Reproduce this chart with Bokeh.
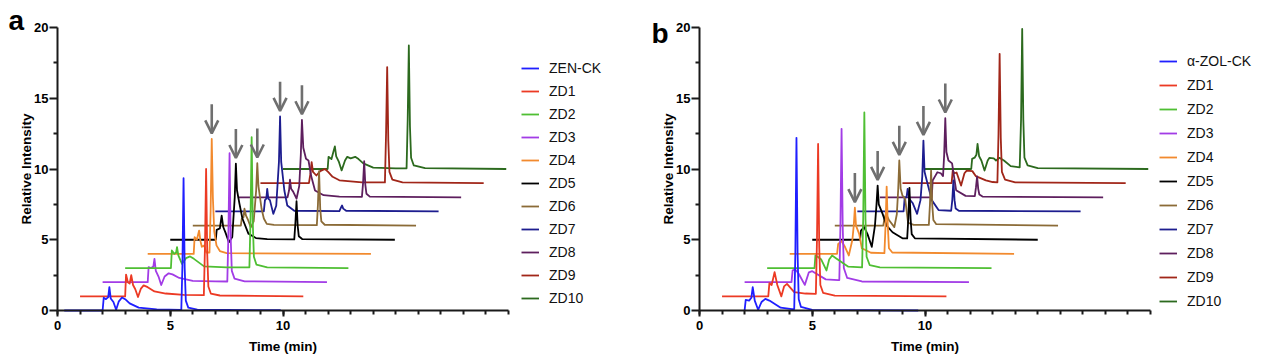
from bokeh.plotting import figure
from bokeh.models import (Legend, LegendItem, Arrow, OpenHead, Label, FixedTicker,
                          ColumnDataSource, Range1d)
from bokeh.layouts import row
from bokeh.embed import file_html
from bokeh.resources import INLINE

FONT = "Liberation Sans"

# ---------------- data ----------------
SAMPLES_A = ["ZEN-CK", "ZD1", "ZD2", "ZD3", "ZD4", "ZD5", "ZD6", "ZD7", "ZD8", "ZD9", "ZD10"]
SAMPLES_B = ["α-ZOL-CK", "ZD1", "ZD2", "ZD3", "ZD4", "ZD5", "ZD6", "ZD7", "ZD8", "ZD9", "ZD10"]
# waterfall offset of each sample (minutes along x, intensity units along y)
STACK_OFFSET = [0, 1, 3, 2, 4, 5, 6, 7, 8, 9, 10]
COLORS = ["#1f1fff", "#ec3a24", "#4fbf33", "#a23ce6", "#f28a2e", "#000000",
          "#8b6b37", "#1d1d8f", "#5e1f5e", "#a12619", "#2c6a1e"]
ARROWED = ["ZD4", "ZD5", "ZD6", "ZD7", "ZD8"]
X_TICKS = [0, 5, 10]
Y_TICKS = [0, 5, 10, 15, 20]

# Panel a: retention time (min) and relative intensity of each chromatogram
A_ZENCK_T = [0.3, 2.0, 2.05, 2.15, 2.25, 2.3, 2.36, 2.48, 2.6, 2.72, 2.86, 3.0, 3.2, 3.6, 4.4, 5.49, 5.54, 5.59, 5.64, 5.69, 5.8, 6.2, 9.9]
A_ZENCK_I = [0.0, 0.0, 0.9, 0.8, 0.95, 1.65, 0.85, 0.6, 0.05, 0.65, 0.92, 0.8, 0.5, 0.2, 0.08, 0.05, 3.2, 9.35, 3.0, 0.7, 0.2, 0.06, 0.02]
A_ZD1_T = [0.0, 2.0, 2.04, 2.12, 2.2, 2.27, 2.35, 2.45, 2.57, 2.7, 2.82, 3.0, 3.3, 3.8, 4.6, 5.49, 5.54, 5.59, 5.64, 5.69, 5.8, 6.2, 9.9]
A_ZD1_I = [0.0, 0.0, 1.54, 1.0, 0.9, 1.5, 0.8, 0.5, -0.05, 0.55, 0.77, 0.65, 0.35, 0.2, 0.1, 0.08, 3.5, 9.0, 3.0, 0.7, 0.2, 0.06, 0.0]
A_ZD2_T = [0.0, 2.03, 2.07, 2.18, 2.26, 2.3, 2.36, 2.52, 2.7, 2.88, 3.05, 3.5, 4.5, 5.51, 5.56, 5.61, 5.66, 5.71, 5.82, 6.3, 9.9]
A_ZD2_I = [0.0, 0.0, 1.24, 1.0, 1.1, 1.47, 0.9, 0.3, 0.7, 0.82, 0.65, 0.12, 0.05, 0.05, 3.5, 9.25, 3.2, 0.8, 0.25, 0.05, 0.0]
A_ZD3_T = [0.0, 2.0, 2.04, 2.15, 2.25, 2.3, 2.36, 2.48, 2.6, 2.75, 2.93, 3.1, 3.4, 4.0, 5.0, 5.53, 5.58, 5.63, 5.68, 5.73, 5.85, 6.3, 9.95]
A_ZD3_I = [0.0, 0.0, 1.06, 1.0, 1.1, 1.65, 0.8, 0.4, -0.2, 0.4, 0.63, 0.55, 0.3, 0.1, 0.06, 0.05, 3.5, 9.12, 3.2, 0.8, 0.25, 0.06, 0.0]
A_ZD4_T = [0.0, 2.04, 2.08, 2.18, 2.28, 2.34, 2.4, 2.5, 2.6, 2.74, 2.79, 2.84, 2.89, 2.95, 3.05, 3.2, 3.5, 9.9]
A_ZD4_I = [0.0, 0.0, 1.18, 1.0, 1.65, 0.9, 0.5, 0.6, 0.1, 0.1, 3.0, 8.12, 4.0, 1.6, 0.6, 0.2, 0.05, 0.0]
A_ZD5_T = [0.0, 2.02, 2.06, 2.2, 2.28, 2.35, 2.45, 2.6, 2.75, 2.86, 2.91, 2.96, 3.07, 3.2, 3.47, 3.8, 4.3, 5.5, 5.55, 5.6, 5.65, 5.7, 5.85, 9.96]
A_ZD5_I = [0.0, 0.0, 0.7, 0.8, 1.71, 0.9, 0.5, -0.17, 0.2, 3.0, 5.38, 3.5, 2.54, 1.5, 0.42, 0.12, 0.05, 0.03, 1.2, 2.72, 1.0, 0.25, 0.05, 0.0]
A_ZD6_T = [0.0, 2.13, 2.17, 2.25, 2.29, 2.36, 2.45, 2.57, 2.7, 2.81, 2.86, 2.91, 3.05, 3.15, 3.28, 3.6, 5.5, 5.55, 5.6, 5.65, 5.7, 5.85, 9.9]
A_ZD6_I = [0.0, 0.0, 0.47, 0.6, 1.19, 0.7, 0.4, -0.12, 0.3, 2.5, 4.41, 2.8, 1.19, 0.5, 0.12, 0.05, 0.03, 1.5, 3.85, 1.2, 0.3, 0.06, 0.0]
A_ZD7_T = [0.0, 2.15, 2.2, 2.26, 2.3, 2.35, 2.42, 2.57, 2.7, 2.82, 2.87, 2.92, 3.06, 3.19, 3.5, 5.5, 5.58, 5.62, 5.67, 5.8, 9.9]
A_ZD7_I = [0.0, 0.0, 0.8, 0.9, 1.6, 0.9, 0.8, -0.17, 0.4, 3.5, 6.71, 3.5, 1.48, 0.42, 0.05, 0.03, 0.3, 0.42, 0.2, 0.05, 0.0]
A_ZD8_T = [0.0, 2.2, 2.27, 2.31, 2.36, 2.45, 2.6, 2.72, 2.79, 2.84, 2.9, 3.02, 3.13, 3.25, 3.42, 3.8, 4.5, 5.5, 5.55, 5.6, 5.65, 5.7, 5.85, 9.9]
A_ZD8_I = [0.0, 0.0, 0.5, 1.24, 0.6, 0.4, -0.1, 0.8, 3.0, 5.47, 3.5, 2.72, 2.6, 1.5, 0.48, 0.15, 0.05, 0.03, 1.0, 2.55, 0.9, 0.25, 0.05, 0.0]
A_ZD9_T = [0.0, 2.15, 2.22, 2.27, 2.33, 2.48, 2.65, 2.86, 3.0, 3.2, 3.5, 4.5, 5.52, 5.57, 5.62, 5.67, 5.72, 5.85, 6.3, 9.9]
A_ZD9_I = [0.0, 0.0, 0.7, 1.49, 0.8, 0.54, 0.85, 1.0, 0.8, 0.45, 0.2, 0.05, 0.05, 3.5, 8.2, 3.0, 0.8, 0.25, 0.06, 0.0]
A_ZD10_T = [0.0, 1.98, 2.02, 2.15, 2.25, 2.3, 2.36, 2.48, 2.6, 2.75, 2.85, 3.0, 3.2, 3.35, 3.56, 4.0, 5.0, 5.48, 5.53, 5.58, 5.63, 5.68, 5.8, 6.3, 9.9]
A_ZD10_I = [0.0, 0.0, 0.86, 0.7, 1.3, 1.6, 0.9, 0.5, -0.1, 0.6, 0.86, 0.75, 0.86, 0.7, 0.4, 0.1, 0.05, 0.05, 3.5, 8.73, 3.0, 0.8, 0.25, 0.06, 0.0]

# Panel b
B_AZOLCK_T = [2.0, 2.05, 2.2, 2.3, 2.36, 2.45, 2.6, 2.75, 2.92, 3.1, 3.6, 4.1, 4.2, 4.25, 4.3, 4.35, 4.4, 4.5, 5.0, 9.7]
B_AZOLCK_I = [0.0, 0.75, 0.7, 0.9, 1.65, 0.7, 0.05, 0.6, 0.82, 0.7, 0.2, 0.1, 0.1, 4.0, 12.2, 4.0, 0.8, 0.25, 0.05, 0.0]
B_ZD1_T = [0.0, 2.05, 2.1, 2.2, 2.33, 2.45, 2.63, 2.75, 2.88, 3.2, 3.7, 4.16, 4.21, 4.26, 4.31, 4.36, 4.48, 5.0, 9.95]
B_ZD1_I = [0.0, 0.0, 0.93, 0.8, 1.71, 0.8, 0.0, 0.7, 0.88, 0.3, 0.2, 0.18, 4.0, 10.77, 3.5, 0.8, 0.25, 0.05, 0.0]
B_ZD2_T = [0.0, 2.1, 2.14, 2.24, 2.4, 2.63, 2.75, 2.88, 3.05, 3.6, 4.21, 4.26, 4.31, 4.36, 4.41, 4.55, 5.0, 9.95]
B_ZD2_I = [0.0, 0.0, 0.89, 0.8, 0.6, -0.17, 0.6, 0.89, 0.7, 0.1, 0.05, 3.5, 11.0, 3.5, 0.8, 0.2, 0.05, 0.0]
B_ZD3_T = [0.0, 2.08, 2.13, 2.25, 2.4, 2.67, 2.85, 3.0, 3.6, 4.15, 4.2, 4.25, 4.3, 4.35, 4.4, 4.55, 5.2, 9.95]
B_ZD3_I = [0.0, 0.0, 0.83, 0.9, 0.6, -0.19, 0.7, 0.78, 0.2, 0.15, 0.15, 4.0, 10.84, 4.0, 1.0, 0.3, 0.05, 0.0]
B_ZD4_T = [0.0, 2.1, 2.15, 2.3, 2.45, 2.62, 2.78, 2.84, 2.89, 2.94, 3.08, 3.2, 3.6, 4.2, 4.25, 4.3, 4.35, 4.4, 4.55, 9.95]
B_ZD4_I = [0.0, 0.0, 0.71, 0.9, 0.5, -0.11, 1.0, 2.0, 3.26, 2.0, 1.42, 0.4, 0.08, 0.05, 2.0, 4.76, 2.0, 0.4, 0.1, 0.0]
B_ZD5_T = [0.0, 2.12, 2.16, 2.3, 2.45, 2.64, 2.78, 2.85, 2.9, 2.95, 3.12, 3.3, 3.56, 4.0, 4.21, 4.26, 4.31, 4.36, 4.41, 4.55, 10.0]
B_ZD5_I = [0.0, 0.0, 0.65, 0.89, 0.4, -0.5, 1.0, 2.5, 3.83, 2.5, 1.83, 1.0, 0.53, 0.1, 0.1, 1.5, 3.67, 1.5, 0.4, 0.1, 0.0]
B_ZD6_T = [0.0, 2.15, 2.2, 2.27, 2.4, 2.64, 2.75, 2.81, 2.86, 2.92, 3.0, 3.12, 3.25, 3.5, 4.17, 4.22, 4.27, 4.32, 4.37, 4.5, 9.9]
B_ZD6_I = [0.0, 0.0, 0.5, 0.83, 0.4, -0.11, 0.8, 2.5, 4.6, 2.6, 2.13, 1.9, 0.2, 0.05, 0.05, 1.5, 3.89, 1.5, 0.4, 0.1, 0.0]
B_ZD7_T = [0.0, 2.05, 2.1, 2.18, 2.23, 2.3, 2.45, 2.65, 2.8, 2.88, 2.93, 2.98, 3.04, 3.3, 3.6, 4.16, 4.21, 4.26, 4.31, 4.36, 4.5, 9.9]
B_ZD7_I = [0.0, 0.0, 1.0, 1.0, 1.6, 0.9, 0.6, -0.17, 0.8, 2.5, 5.01, 2.8, 2.42, 0.8, 0.1, 0.05, 0.8, 2.19, 0.8, 0.2, 0.05, 0.0]
B_ZD8_T = [0.0, 2.3, 2.34, 2.45, 2.55, 2.7, 2.8, 2.85, 2.9, 2.95, 3.04, 3.2, 3.38, 3.8, 4.21, 4.26, 4.31, 4.36, 4.41, 4.55, 9.9]
B_ZD8_I = [0.0, 0.0, 1.19, 1.5, 1.77, 1.7, 1.5, 3.0, 5.59, 3.2, 2.6, 2.4, 0.5, 0.1, 0.08, 0.7, 1.47, 0.6, 0.2, 0.05, 0.0]
B_ZD9_T = [0.0, 2.18, 2.23, 2.3, 2.4, 2.6, 2.75, 2.85, 3.1, 3.25, 3.7, 4.0, 4.21, 4.26, 4.31, 4.36, 4.41, 4.55, 5.0, 9.9]
B_ZD9_I = [0.0, 0.0, 0.89, 0.7, 0.75, -0.17, 0.7, 0.89, 0.85, 0.5, 0.2, 0.08, 0.05, 3.5, 9.14, 3.2, 0.8, 0.25, 0.06, 0.0]
B_ZD10_T = [0.0, 2.05, 2.09, 2.2, 2.28, 2.33, 2.4, 2.5, 2.64, 2.78, 2.86, 3.05, 3.15, 3.3, 3.5, 3.8, 4.2, 4.26, 4.31, 4.36, 4.41, 4.55, 5.0, 9.9]
B_ZD10_I = [0.0, 0.0, 0.72, 0.8, 1.0, 1.77, 0.9, 0.6, -0.11, 0.6, 0.79, 0.75, 0.6, 0.79, 0.6, 0.2, 0.12, 3.5, 9.9, 3.5, 0.8, 0.25, 0.06, 0.0]

A_TIMES = [A_ZENCK_T, A_ZD1_T, A_ZD2_T, A_ZD3_T, A_ZD4_T, A_ZD5_T, A_ZD6_T, A_ZD7_T, A_ZD8_T, A_ZD9_T, A_ZD10_T]
A_INTS = [A_ZENCK_I, A_ZD1_I, A_ZD2_I, A_ZD3_I, A_ZD4_I, A_ZD5_I, A_ZD6_I, A_ZD7_I, A_ZD8_I, A_ZD9_I, A_ZD10_I]
B_TIMES = [B_AZOLCK_T, B_ZD1_T, B_ZD2_T, B_ZD3_T, B_ZD4_T, B_ZD5_T, B_ZD6_T, B_ZD7_T, B_ZD8_T, B_ZD9_T, B_ZD10_T]
B_INTS = [B_AZOLCK_I, B_ZD1_I, B_ZD2_I, B_ZD3_I, B_ZD4_I, B_ZD5_I, B_ZD6_I, B_ZD7_I, B_ZD8_I, B_ZD9_I, B_ZD10_I]

PX_PER_MIN = 22.55
PX_PER_UNIT = 14.15
AXIS_BOTTOM, HEIGHT = 310, 357


def make_panel(letter, names, times, ints, width, axis_left,
               legend_xy, legend_spacing, letter_xy):
    # the plotting frame fills the whole figure; axes sit at x = 0 and y = 0
    x0 = -axis_left / PX_PER_MIN
    x1 = (width - axis_left) / PX_PER_MIN
    y0 = -(HEIGHT - AXIS_BOTTOM) / PX_PER_UNIT
    y1 = AXIS_BOTTOM / PX_PER_UNIT
    p = figure(width=width, height=HEIGHT,
               x_range=Range1d(x0, x1), y_range=Range1d(y0, y1),
               min_border_left=0, min_border_right=0,
               min_border_top=0, min_border_bottom=0,
               output_backend="svg", toolbar_location=None)
    p.grid.visible = False
    p.outline_line_color = None
    p.background_fill_color = "white"
    p.border_fill_color = "white"

    renderers = {}
    for i in list(range(len(names)))[::-1]:
        off = STACK_OFFSET[i]
        src = ColumnDataSource(dict(x=[t + off for t in times[i]],
                                    y=[v + off for v in ints[i]]))
        renderers[i] = p.line("x", "y", source=src, line_color=COLORS[i],
                              line_width=1.8, line_join="round")

    # arrows over the product peaks
    for name in ARROWED:
        i = names.index(name)
        off = STACK_OFFSET[i]
        cand = [(v, t) for t, v in zip(times[i], ints[i]) if 2.6 <= t <= 3.2]
        vmax, tmax = max(cand)
        tip = vmax + off + 0.4
        p.add_layout(Arrow(end=OpenHead(size=13, line_color="#6f6f6f", line_width=2.6),
                           x_start=tmax + off, y_start=tip + 2.05,
                           x_end=tmax + off, y_end=tip,
                           line_color="#6f6f6f", line_width=2.6))

    for ax in (p.xaxis[0], p.yaxis[0]):
        ax.fixed_location = 0
        ax.bounds = (0, 20)
        ax.axis_line_width = 2
        ax.major_tick_line_width = 2
        ax.minor_tick_line_width = 2
        ax.axis_line_color = "#1a1a1a"
        ax.major_tick_line_color = "#1a1a1a"
        ax.minor_tick_line_color = "#1a1a1a"
        ax.major_label_text_font = FONT
        ax.major_label_text_font_style = "bold"
        ax.major_label_text_font_size = "13px"
        ax.major_label_text_color = "black"
        ax.axis_label_text_font = FONT
        ax.axis_label_text_font_style = "bold"
        ax.axis_label_text_font_size = "13.5px"
        ax.axis_label_text_color = "black"
        ax.major_tick_in = 0
        ax.minor_tick_in = 0

    xa = p.xaxis[0]
    xa.ticker = FixedTicker(ticks=X_TICKS, minor_ticks=list(range(0, 21)))
    xa.major_tick_out = 6
    xa.minor_tick_out = 4
    xa.major_label_standoff = 4
    xa.axis_label = "Time (min)"
    xa.axis_label_standoff = 6

    ya = p.yaxis[0]
    ya.ticker = FixedTicker(ticks=Y_TICKS, minor_ticks=[2.5, 7.5, 12.5, 17.5])
    ya.major_tick_out = 8
    ya.minor_tick_out = 4
    ya.major_label_standoff = 1
    ya.axis_label = "Relative Intensity"
    ya.axis_label_standoff = -3

    items = [LegendItem(label=names[i], renderers=[renderers[i]]) for i in range(len(names))]
    legend = Legend(items=items, location=legend_xy, orientation="vertical",
                    glyph_width=18, glyph_height=20, label_height=20,
                    spacing=legend_spacing, padding=0, margin=0, label_standoff=10,
                    label_text_font=FONT, label_text_font_size="14px",
                    label_text_color="#111111",
                    border_line_color=None, background_fill_alpha=0)
    p.add_layout(legend)

    p.add_layout(Label(x=letter_xy[0], y=letter_xy[1], text=letter,
                       text_font=FONT, text_font_style="bold", text_font_size="28px",
                       text_baseline="alphabetic", text_color="black"))
    return p


pa = make_panel("a", SAMPLES_A, A_TIMES, A_INTS, 635, 57, (521, 49), 3, (-2.17, 20.46))
pb = make_panel("b", SAMPLES_B, B_TIMES, B_INTS, 634, 64, (524, 46), 4, (-2.13, 19.61))

layout = row(pa, pb, spacing=0)
open("out.html", "w").write(file_html(layout, INLINE))
